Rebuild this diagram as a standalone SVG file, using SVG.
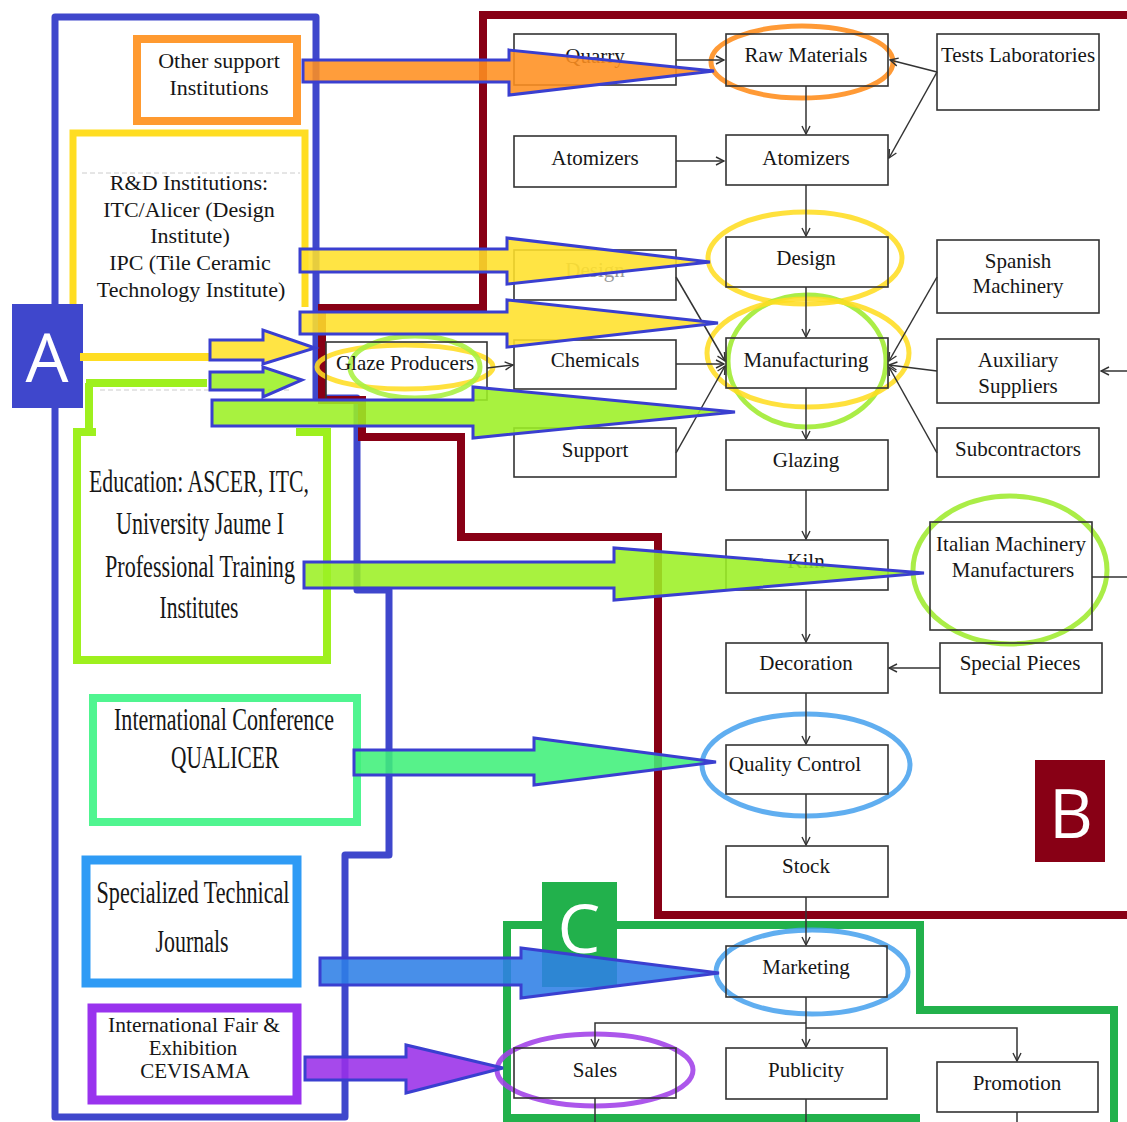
<svg xmlns="http://www.w3.org/2000/svg" width="1127" height="1122" viewBox="0 0 1127 1122">
<style>
.box{fill:none;stroke:#333;stroke-width:1.6}
.t{font-family:"Liberation Serif","Times New Roman",serif;font-size:21px;fill:#161616;text-anchor:middle}
.lt{font-family:"Liberation Serif","Times New Roman",serif;fill:#161616;text-anchor:middle}
.con{fill:none;stroke:#333;stroke-width:1.5;marker-end:url(#ah)}
.ln{fill:none;stroke:#333;stroke-width:1.5}
.arr{stroke:#3A3FD0;stroke-width:3;stroke-linejoin:miter;fill-opacity:0.88}
.ell{fill:none;stroke-width:5;opacity:0.88}
.lbl{font-family:"Open Sans","Noto Sans",sans-serif;fill:#fff;text-anchor:middle;font-size:68px}
</style>
<defs>
<marker id="ah" markerWidth="10" markerHeight="10" refX="9" refY="5" orient="auto" markerUnits="userSpaceOnUse"><path d="M1,1 L9,5 L1,9" fill="none" stroke="#333" stroke-width="1.4"/></marker>
</defs>
<rect width="1127" height="1122" fill="#fff"/>

<g id="regions">
<path d="M55,17 H316 V398 H357 V590 H389 V855 H345 V1117 H55 Z" fill="none" stroke="#3F47CC" stroke-width="7" stroke-linejoin="round"/>
<path d="M1127,15 H483 V308 H322 V400 H362 V437 H461 V537 H658 V915 H1127" fill="none" stroke="#880015" stroke-width="8"/>
<path d="M507,1122 V925 H920 V1010 H1114 V1122 M507,1118 H920" fill="none" stroke="#22B14C" stroke-width="8"/>
</g>

<g id="inst-other">
<rect x="137" y="39" width="160" height="82" fill="#fff" stroke="#FF9A30" stroke-width="8"/>
<text class="lt" font-size="22" x="219" y="68">Other support</text>
<text class="lt" font-size="22" x="219" y="95">Institutions</text>
</g>

<g id="inst-rd">
<path d="M73,305 V133 H305 V307" fill="none" stroke="#FFDD22" stroke-width="7"/>
<path d="M82,173 H300" stroke="#ccc" stroke-width="1" stroke-dasharray="5,3"/>
<text class="lt" font-size="22" x="189" y="190">R&amp;D Institutions:</text>
<text class="lt" font-size="22" x="189" y="217">ITC/Alicer (Design</text>
<text class="lt" font-size="22" x="190" y="243">Institute)</text>
<text class="lt" font-size="22" x="190" y="270">IPC (Tile Ceramic</text>
<text class="lt" font-size="22" x="191" y="297">Technology Institute)</text>
</g>

<g id="inst-education">
<path d="M100,390 H290" stroke="#ccc" stroke-width="1" stroke-dasharray="5,3"/>
<path d="M96,432 H77 V660 H327 V432 H296 M89,383 V432 M86,383 H207" fill="none" stroke="#9EF01E" stroke-width="8"/>
<text class="lt" font-size="32" x="199" y="492" textLength="220" lengthAdjust="spacingAndGlyphs">Education: ASCER, ITC,</text>
<text class="lt" font-size="32" x="200" y="534" textLength="168" lengthAdjust="spacingAndGlyphs">University Jaume I</text>
<text class="lt" font-size="32" x="200" y="577" textLength="190" lengthAdjust="spacingAndGlyphs">Professional Training</text>
<text class="lt" font-size="32" x="199" y="618" textLength="79" lengthAdjust="spacingAndGlyphs">Institutes</text>
</g>

<g id="inst-conference">
<rect x="93" y="698" width="264" height="124" fill="#fff" stroke="#50F590" stroke-width="8"/>
<text class="lt" font-size="31" x="224" y="730" textLength="220" lengthAdjust="spacingAndGlyphs">International Conference</text>
<text class="lt" font-size="31" x="225" y="768" textLength="108" lengthAdjust="spacingAndGlyphs">QUALICER</text>
</g>

<g id="inst-journals">
<rect x="86" y="860" width="211" height="123" fill="#fff" stroke="#2F9BF5" stroke-width="9"/>
<text class="lt" font-size="32" x="193" y="903" textLength="193" lengthAdjust="spacingAndGlyphs">Specialized Technical</text>
<text class="lt" font-size="32" x="192" y="952" textLength="73" lengthAdjust="spacingAndGlyphs">Journals</text>
</g>

<g id="inst-cevisama">
<rect x="92" y="1008" width="205" height="92" fill="#fff" stroke="#9933EE" stroke-width="9"/>
<text class="lt" font-size="21" x="194" y="1032" textLength="172" lengthAdjust="spacingAndGlyphs">International Fair &amp;</text>
<text class="lt" font-size="21" x="193" y="1055">Exhibition</text>
<text class="lt" font-size="21" x="195" y="1078">CEVISAMA</text>
</g>

<g id="highlights">
<ellipse class="ell" cx="802" cy="62" rx="91" ry="36" stroke="#FF8C1A"/>
<ellipse class="ell" cx="805" cy="258" rx="97" ry="46" stroke="#FFDD22"/>
<ellipse class="ell" cx="807" cy="361" rx="79" ry="66" stroke="#9EEB2E"/>
<ellipse class="ell" cx="808" cy="353" rx="101" ry="54" stroke="#FFDD22"/>
<ellipse class="ell" cx="405" cy="367" rx="88" ry="22" stroke="#FFDD22" stroke-width="7"/>
<ellipse class="ell" cx="415" cy="367" rx="65" ry="31" stroke="#A8F040" stroke-width="4"/>
<ellipse class="ell" cx="1010" cy="570" rx="97" ry="74" stroke="#9EEB2E"/>
<ellipse class="ell" cx="806" cy="765" rx="104" ry="51" stroke="#4AA3EE"/>
<ellipse class="ell" cx="812" cy="972" rx="96" ry="42" stroke="#4AA3EE"/>
<ellipse class="ell" cx="595" cy="1070" rx="98" ry="36" stroke="#A040E8"/>
</g>

<g id="n-quarry"><rect class="box" x="514" y="34" width="162" height="51"/><text class="t" x="595" y="63">Quarry</text></g>
<g id="n-raw"><rect class="box" x="726" y="34" width="162" height="52"/><text class="t" x="806" y="62">Raw Materials</text></g>
<g id="n-tests"><rect class="box" x="937" y="34" width="162" height="76"/><text class="t" x="1018" y="62">Tests Laboratories</text></g>
<g id="n-atom1"><rect class="box" x="514" y="136" width="162" height="51"/><text class="t" x="595" y="165">Atomizers</text></g>
<g id="n-atom2"><rect class="box" x="726" y="135" width="162" height="50"/><text class="t" x="806" y="165">Atomizers</text></g>
<g id="n-design1"><rect class="box" x="514" y="250" width="162" height="50"/><text class="t" x="595" y="277" style="fill:#9a9a9a">Design</text></g>
<g id="n-design2"><rect class="box" x="726" y="237" width="162" height="50"/><text class="t" x="806" y="265">Design</text></g>
<g id="n-spanish"><rect class="box" x="937" y="240" width="162" height="73"/><text class="t" x="1018" y="268">Spanish</text><text class="t" x="1018" y="293">Machinery</text></g>
<g id="n-glaze"><rect class="box" x="326" y="342" width="161" height="58"/><text class="t" x="405" y="370">Glaze Producers</text></g>
<g id="n-chem"><rect class="box" x="514" y="340" width="162" height="49"/><text class="t" x="595" y="367">Chemicals</text></g>
<g id="n-manuf"><rect class="box" x="726" y="338" width="162" height="50"/><text class="t" x="806" y="367">Manufacturing</text></g>
<g id="n-aux"><rect class="box" x="937" y="339" width="162" height="64"/><text class="t" x="1018" y="367">Auxiliary</text><text class="t" x="1018" y="393">Suppliers</text></g>
<g id="n-support"><rect class="box" x="514" y="428" width="162" height="49"/><text class="t" x="595" y="457">Support</text></g>
<g id="n-glazing"><rect class="box" x="726" y="440" width="162" height="50"/><text class="t" x="806" y="467">Glazing</text></g>
<g id="n-sub"><rect class="box" x="937" y="428" width="162" height="49"/><text class="t" x="1018" y="456">Subcontractors</text></g>
<g id="n-kiln"><rect class="box" x="726" y="540" width="162" height="50"/><text class="t" x="806" y="568">Kiln</text></g>
<g id="n-italian"><rect class="box" x="930" y="522" width="162" height="108"/><text class="t" x="1011" y="551">Italian Machinery</text><text class="t" x="1013" y="577">Manufacturers</text></g>
<g id="n-decor"><rect class="box" x="726" y="643" width="162" height="50"/><text class="t" x="806" y="670">Decoration</text></g>
<g id="n-special"><rect class="box" x="940" y="643" width="162" height="50"/><text class="t" x="1020" y="670">Special Pieces</text></g>
<g id="n-qc"><rect class="box" x="726" y="745" width="162" height="49"/><text class="t" x="795" y="771">Quality Control</text></g>
<g id="n-stock"><rect class="box" x="726" y="846" width="162" height="51"/><text class="t" x="806" y="873">Stock</text></g>
<g id="n-mkt"><rect class="box" x="726" y="946" width="161" height="51"/><text class="t" x="806" y="974">Marketing</text></g>
<g id="n-sales"><rect class="box" x="514" y="1048" width="162" height="50"/><text class="t" x="595" y="1077">Sales</text></g>
<g id="n-pub"><rect class="box" x="726" y="1048" width="161" height="51"/><text class="t" x="806" y="1077">Publicity</text></g>
<g id="n-promo"><rect class="box" x="937" y="1062" width="161" height="50"/><text class="t" x="1017" y="1090">Promotion</text></g>

<g id="connectors">
<path class="con" d="M676,60 H724"/>
<path class="con" d="M806,86 V134"/>
<path class="con" d="M937,72 L890,60"/>
<path class="con" d="M937,72 L889,158"/>
<path class="con" d="M676,161 H724"/>
<path class="con" d="M806,185 V236"/>
<path class="con" d="M806,287 V337"/>
<path class="con" d="M676,277 L725,361"/>
<path class="con" d="M676,364 H724"/>
<path class="con" d="M676,453 L725,366"/>
<path class="con" d="M937,277 L889,361"/>
<path class="con" d="M937,371 L889,365"/>
<path class="con" d="M937,453 L889,367"/>
<path class="con" d="M1127,371 H1101"/>
<path class="con" d="M806,388 V439"/>
<path class="con" d="M487,368 L513,365"/>
<path class="con" d="M806,490 V539"/>
<path class="con" d="M806,590 V642"/>
<path class="ln" d="M1092,577 H1127"/>
<path class="con" d="M940,668 H889"/>
<path class="con" d="M806,693 V744"/>
<path class="con" d="M806,794 V845"/>
<path class="con" d="M806,897 V945"/>
<path class="con" d="M806,997 V1047"/>
<path class="con" d="M806,1023 H595 V1047"/>
<path class="con" d="M806,1028 H1017 V1061"/>
<path class="ln" d="M595,1098 V1122 M806,1099 V1122 M1017,1112 V1122"/>
</g>

<g id="labels">
<rect x="12" y="304" width="71" height="104" fill="#3F47CC"/>
<text class="lbl" x="47" y="382">A</text>
<rect x="1035" y="760" width="70" height="102" fill="#880015"/>
<text class="lbl" x="1071" y="838">B</text>
<rect x="542" y="882" width="75" height="105" fill="#22B14C"/>
<text class="lbl" x="579" y="953">C</text>
<path d="M80,357 H210" stroke="#FFDD22" stroke-width="8"/>
</g>

<g id="big-arrows">
<polygon class="arr" fill="#FF9020" points="303,60 509,60 509,50 714,71 509,95 509,82 303,82"/>
<polygon class="arr" fill="#FFE02A" points="300,249 507,249 507,238 710,262 507,284 507,272 300,272"/>
<polygon class="arr" fill="#FFE02A" points="300,312 507,312 507,300 718,323 507,347 507,334 300,334"/>
<polygon class="arr" fill="#FFE02A" points="210,340 263,340 263,330 315,348 263,364 263,360 210,360"/>
<polygon class="arr" fill="#9CF024" points="210,372 263,372 263,367 302,380 263,397 263,390 210,390"/>
<polygon class="arr" fill="#9CF024" points="212,400 473,400 473,387 735,412 473,438 473,426 212,426"/>
<polygon class="arr" fill="#9CF024" points="304,562 614,562 614,548 924,573 614,600 614,588 304,588"/>
<polygon class="arr" fill="#40F07A" points="354,750 534,750 534,738 716,762 534,785 534,775 354,775"/>
<polygon class="arr" fill="#2F7FE6" points="320,958 521,958 521,948 719,973 521,998 521,985 320,985"/>
<polygon class="arr" fill="#9A30E8" points="305,1057 406,1057 406,1045 503,1068 406,1093 406,1080 305,1080"/>
</g>
</svg>
